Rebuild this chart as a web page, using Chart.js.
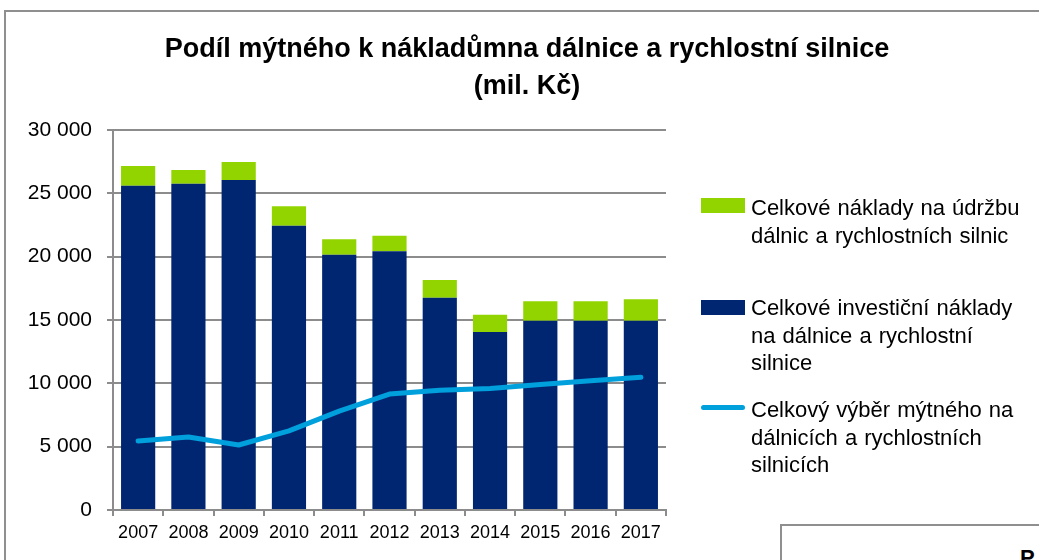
<!DOCTYPE html>
<html>
<head>
<meta charset="utf-8">
<script src="https://cdn.jsdelivr.net/npm/chart.js@4"></script>
<style>
  html, body { margin: 0; padding: 0; background: #fff; }
  body { width: 1039px; height: 560px; overflow: hidden; position: relative; font-family: "Liberation Sans", Arial, sans-serif; }
  #frame { position: absolute; left: 4px; top: 10px; width: 1100px; height: 600px; border: 2px solid #8f8f8f; box-sizing: border-box; }
  #box2 { position: absolute; left: 780px; top: 524px; width: 400px; height: 100px; border: 2px solid #8f8f8f; box-sizing: border-box; overflow: hidden; }
  #box2 span { position: absolute; left: 238px; top: 19px; font-weight: bold; font-size: 22px; color: #000; }
  #title { position: absolute; left: 0; top: 30px; width: 1054px; text-align: center; font-weight: bold; font-size: 27px; line-height: 37px; color: #000; }
  #wrap { position: absolute; left: 0; top: 0; width: 1039px; height: 560px; }
  #legend { position: absolute; left: 0; top: 0; }
  .li { position: absolute; left: 701px; }
  .sw { position: absolute; left: 0; width: 44px; }
  .tx { position: absolute; left: 50px; font-size: 22px; line-height: 27.5px; color: #000; white-space: nowrap; word-spacing: 1px; }
</style>
</head>
<body>
<div id="frame"></div>
<div id="box2"><span>P</span></div>
<div id="wrap"><canvas id="c" width="1039" height="560"></canvas></div>
<div id="title"></div>
<div id="legend"></div>
<script>
const titleLines = ["Podíl mýtného k nákladůmna dálnice a rychlostní silnice", "(mil. Kč)"];
const years = ["2007","2008","2009","2010","2011","2012","2013","2014","2015","2016","2017"];
const investment = [25600, 25750, 26050, 22450, 20150, 20420, 16760, 14050, 14950, 14950, 14950];
const maintenance = [1550, 1100, 1420, 1530, 1220, 1240, 1400, 1370, 1530, 1530, 1680];
const toll = [5450, 5760, 5130, 6250, 7800, 9150, 9450, 9600, 9900, 10200, 10480];
const maintenanceLabel = ["Celkové náklady na údržbu", "dálnic a rychlostních silnic"];
const investmentLabel = ["Celkové investiční náklady", "na dálnice a rychlostní", "silnice"];
const tollLabel = ["Celkový výběr mýtného na", "dálnicích a rychlostních", "silnicích"];
const yTicks = [0, 5000, 10000, 15000, 20000, 25000, 30000];

const NAVY = "#002672";
const GREEN = "#92D400";
const CYAN = "#00A0DC";
const GRID = "#8c8c8c";

document.getElementById("title").innerHTML = titleLines.map(t => "<div>" + t + "</div>").join("");

const fmt = v => String(v).replace(/\B(?=(\d{3})+(?!\d))/g, " ");

const chart = new Chart(document.getElementById("c"), {
  type: "bar",
  data: {
    labels: years,
    datasets: [
      { type: "line", label: tollLabel.join(" "), data: toll, borderColor: CYAN, backgroundColor: CYAN,
        borderWidth: 5, pointRadius: 0, tension: 0, stack: "toll", order: 0, borderCapStyle: "round", borderJoinStyle: "round" },
      { label: investmentLabel.join(" "), data: investment, backgroundColor: NAVY, stack: "costs", order: 1 },
      { label: maintenanceLabel.join(" "), data: maintenance, backgroundColor: GREEN, stack: "costs", order: 1 }
    ]
  },
  options: {
    responsive: false,
    animation: false,
    layout: { padding: { left: 0, right: 373, top: 130, bottom: 0 } },
    plugins: { legend: { display: false }, title: { display: false }, tooltip: { enabled: false } },
    datasets: { bar: { categoryPercentage: 1, barPercentage: 0.68 } },
    scales: {
      x: {
        stacked: true,
        grid: { drawOnChartArea: false, drawTicks: true, tickLength: 6, offset: true, color: GRID, lineWidth: 2 },
        border: { color: GRID, width: 2 },
        ticks: { color: "#000", font: { family: "Liberation Sans", size: 18 }, padding: 6, maxRotation: 0 },
        afterFit: s => { s.height = 50; }
      },
      y: {
        stacked: true,
        min: 0, max: 30000,
        afterBuildTicks: s => { s.ticks = yTicks.map(v => ({ value: v })); },
        grid: { color: GRID, lineWidth: 2, tickLength: 6 },
        border: { color: GRID, width: 2 },
        ticks: { color: "#000", font: { family: "Liberation Sans", size: 21 }, padding: 15, callback: v => fmt(v) },
        afterFit: s => { s.width = 113; }
      }
    }
  }
});

// HTML legend built from the chart's datasets
const legendSpec = [
  { ds: 2, lines: maintenanceLabel, top: 198, kind: "box", textTop: 194 },
  { ds: 1, lines: investmentLabel, top: 300, kind: "box", textTop: 294 },
  { ds: 0, lines: tollLabel, top: 405, kind: "line", textTop: 396 }
];
const lg = document.getElementById("legend");
legendSpec.forEach(it => {
  const d = chart.data.datasets[it.ds];
  const item = document.createElement("div");
  item.className = "li";
  item.style.top = it.top + "px";
  const sw = document.createElement("div");
  sw.className = "sw";
  if (it.kind === "box") { sw.style.height = "15px"; sw.style.top = "0px"; sw.style.background = d.backgroundColor; }
  else { sw.style.height = "5px"; sw.style.top = "0px"; sw.style.background = d.borderColor; sw.style.borderRadius = "3px"; }
  item.appendChild(sw);
  const tx = document.createElement("div");
  tx.className = "tx";
  tx.style.top = (it.textTop - it.top) + "px";
  tx.innerHTML = it.lines.map(l => "<div>" + l + "</div>").join("");
  item.appendChild(tx);
  lg.appendChild(item);
});
</script>
</body>
</html>
